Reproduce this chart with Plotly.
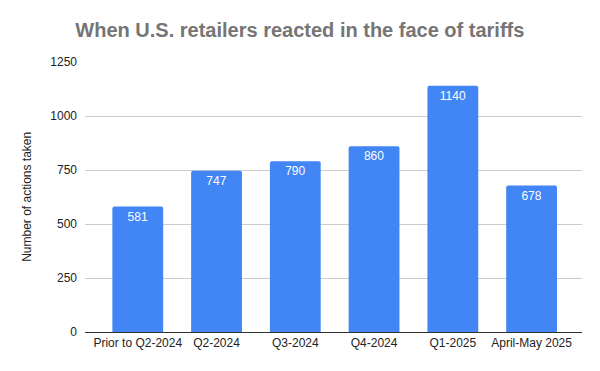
import plotly.graph_objects as go

categories = ["Prior to Q2-2024", "Q2-2024", "Q3-2024", "Q4-2024", "Q1-2025", "April-May 2025"]
actions = [581, 747, 790, 860, 1140, 678]
y_ticks = [0, 250, 500, 750, 1000, 1250]

FONT = "Liberation Sans, Arial"

fig = go.Figure(go.Bar(
    x=categories,
    y=actions,
    marker=dict(color="#4285F4", line=dict(width=0)),
    width=0.645,
    text=[str(v) for v in actions],
    textposition="inside",
    insidetextanchor="end",
    textfont=dict(color="white", size=12, family=FONT),
    textangle=0,
))

fig.update_layout(
    width=592, height=363,
    margin=dict(l=77, r=18, t=54, b=39, autoexpand=False),
    paper_bgcolor="white", plot_bgcolor="white",
    barcornerradius=2,
    font=dict(family=FONT, size=12, color="#222222"),
    title=dict(
        text="<b>When U.S. retailers reacted in the face of tariffs</b>",
        x=0.493, xref="container", xanchor="center",
        y=0.939, yref="container", yanchor="middle",
        font=dict(family=FONT, size=20, color="#757575"),
    ),
    xaxis=dict(
        range=[-0.67, 5.64],
        showgrid=False, showline=True, linecolor="#333333", linewidth=1,
        ticks="", tickfont=dict(size=12, color="#222222"),
        automargin=False,
    ),
    yaxis=dict(
        range=[0, 1250],
        tickvals=y_ticks,
        showgrid=True, gridcolor="#cccccc", gridwidth=1,
        zeroline=False, showline=False,
        ticks="", ticklabelstandoff=7,
        tickfont=dict(size=12, color="#222222"),
        automargin=False,
    ),
    annotations=[dict(
        text="Number of actions taken",
        xref="paper", yref="paper",
        x=-0.117, y=0.5, xanchor="center", yanchor="middle",
        textangle=-90, showarrow=False,
        font=dict(family=FONT, size=12, color="#222222"),
    )],
    showlegend=False,
    uniformtext=dict(minsize=8, mode="show"),
)

fig.write_html("out.html")
